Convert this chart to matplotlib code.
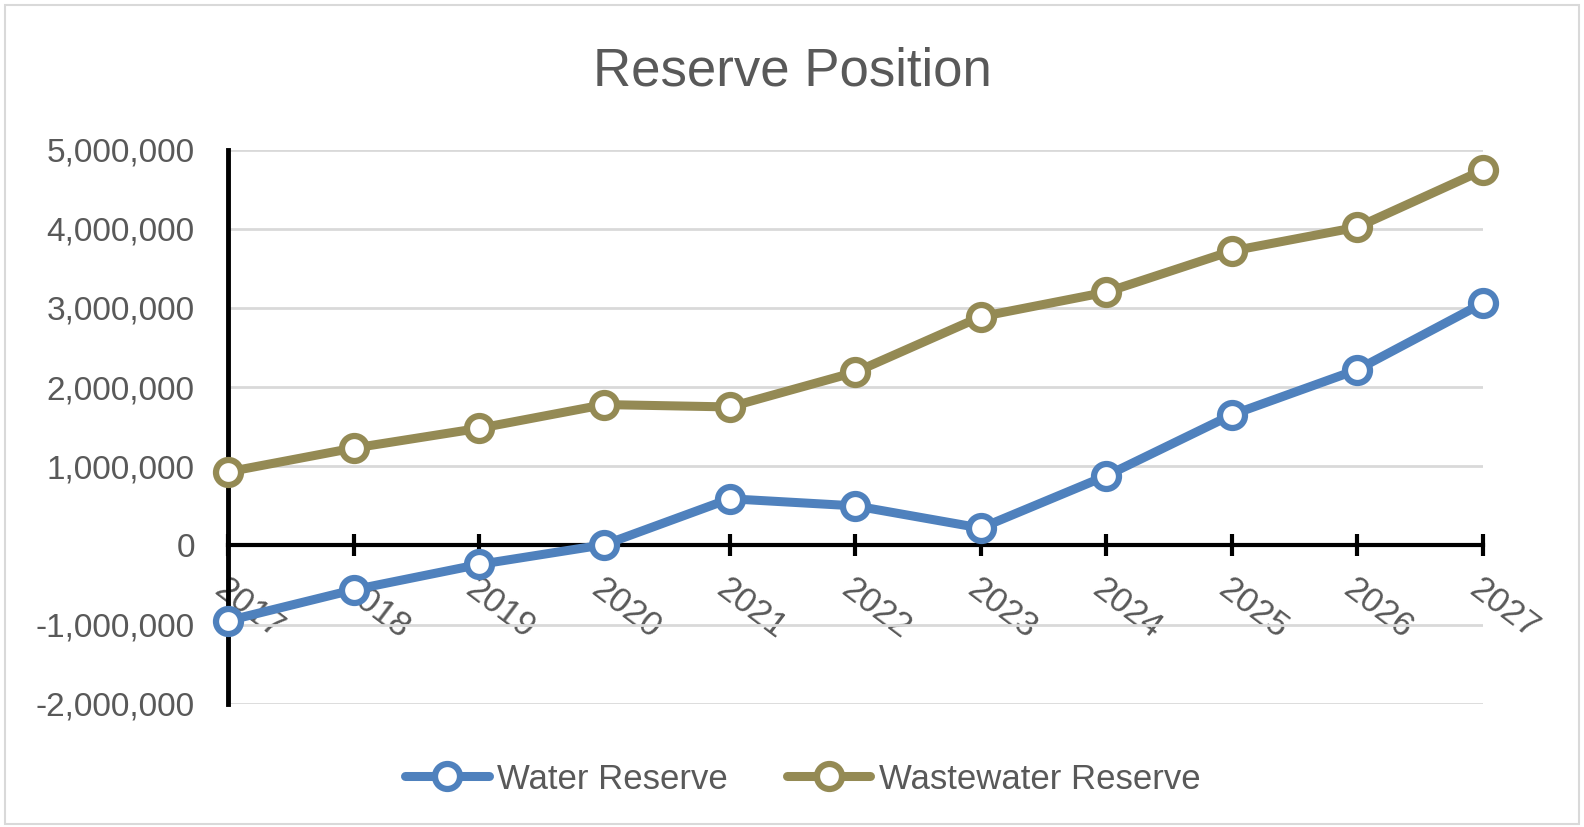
import matplotlib.pyplot as plt
from matplotlib.patches import Rectangle
from matplotlib.ticker import FuncFormatter

years = ["2017", "2018", "2019", "2020", "2021", "2022", "2023", "2024", "2025", "2026", "2027"]
water_reserve = [-950000, -560000, -240000, 10000, 590000, 500000, 220000, 880000, 1650000, 2220000, 3060000]
wastewater_reserve = [930000, 1230000, 1480000, 1780000, 1750000, 2190000, 2890000, 3200000, 3720000, 4020000, 4740000]

plt.rcParams['font.family'] = ['Liberation Sans', 'DejaVu Sans']
text_grey = '#595959'

fig = plt.figure(figsize=(15.84, 8.27), dpi=100)
ax = fig.add_axes([0.144, 0.149, 0.792, 0.670])

x = range(len(years))
ax.plot(x, water_reserve, color='#4F81BD', lw=6.5, marker='o', ms=18,
        mfc='white', mec='#4F81BD', mew=4.5, label='Water Reserve',
        zorder=4, clip_on=False, solid_capstyle='round')
ax.plot(x, wastewater_reserve, color='#948A54', lw=6.5, marker='o', ms=18,
        mfc='white', mec='#948A54', mew=4.5, label='Wastewater Reserve',
        zorder=4, clip_on=False, solid_capstyle='round')

ax.set_xlim(0, len(years) - 1)
ax.set_ylim(-2000000, 5000000)
ax.set_yticks(range(-2000000, 5000001, 1000000))
ax.yaxis.set_major_formatter(FuncFormatter(lambda v, p: f"{int(v):,}"))
ax.tick_params(axis='y', length=0, pad=24, labelsize=24, labelcolor=text_grey)

ax.grid(axis='y', color='#D9D9D9', lw=2)
ax.set_axisbelow(True)

for s in ['top', 'right']:
    ax.spines[s].set_visible(False)
ax.spines['left'].set_linewidth(3.5)
ax.spines['bottom'].set_position(('data', 0))
ax.spines['bottom'].set_linewidth(3)
ax.spines['left'].set_zorder(3)
ax.spines['bottom'].set_zorder(3)

ax.set_xticks(list(x))
ax.set_xticklabels(years)
ax.tick_params(axis='x', direction='inout', length=16, width=3, pad=11,
               labelsize=25, labelcolor=text_grey)
for lbl in ax.get_xticklabels():
    lbl.set_rotation(-37)
    lbl.set_rotation_mode('anchor')
    lbl.set_ha('left')
    lbl.set_va('top')

fig.text(0.5, 0.913, 'Reserve Position', ha='center', va='center',
         fontsize=38, color=text_grey)

fig.legend(loc='center', bbox_to_anchor=(0.507, 0.058), ncol=2, frameon=False,
           fontsize=25, handlelength=2.4, handletextpad=0.25, columnspacing=1.7,
           labelcolor=text_grey)

fig.patches.append(Rectangle((0.003, 0.004), 0.994, 0.99, transform=fig.transFigure,
                             fill=False, edgecolor='#D9D9D9', lw=1.5))

fig.savefig('out.png', dpi=100)
